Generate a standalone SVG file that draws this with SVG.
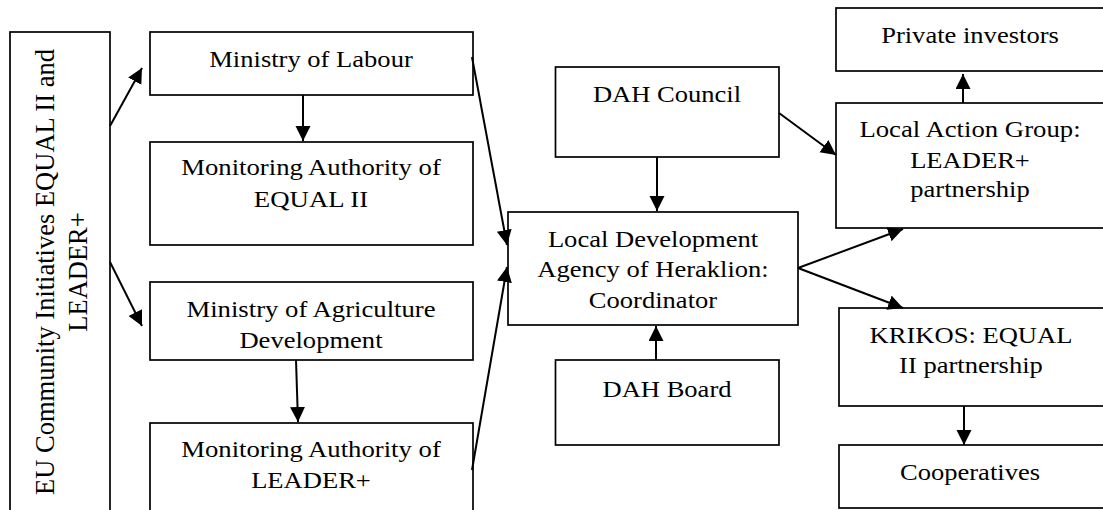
<svg xmlns="http://www.w3.org/2000/svg" width="1103" height="510" viewBox="0 0 1103 510" font-family="'Liberation Serif', 'Times New Roman', serif">
<style>
.box{fill:#fff;stroke:#000;stroke-width:1.7}
.t{font-family:'Liberation Serif','Times New Roman',serif;font-size:22.5px;text-anchor:middle;fill:#000}
.tr{font-family:'Liberation Serif','Times New Roman',serif;font-size:26.5px;text-anchor:middle;fill:#000}
.c{stroke:#000;stroke-width:2;fill:none;marker-end:url(#ah)}
</style>
<defs>
<marker id="ah" markerUnits="userSpaceOnUse" markerWidth="16" markerHeight="16" refX="15" refY="7.5" orient="auto">
<path d="M0,0 L15,7.5 L0,15 Z" fill="#000"/>
</marker>
</defs>
<rect width="1103" height="510" fill="#fff"/>

<g id="eu">
<rect class="box" x="10" y="32" width="100" height="490"/>
<text class="tr" font-family="Liberation Serif, serif" transform="translate(54,272) rotate(-90)">EU Community Initiatives EQUAL II and</text>
<text class="tr" font-family="Liberation Serif, serif" transform="translate(87,272) rotate(-90)">LEADER+</text>
</g>

<g id="min-labour">
<rect class="box" x="150" y="32" width="323" height="63"/>
<text class="t" font-family="Liberation Serif, serif" x="311" y="67" textLength="203.5" lengthAdjust="spacingAndGlyphs">Ministry of Labour</text>
</g>

<g id="mon-equal">
<rect class="box" x="150" y="142" width="323" height="103"/>
<text class="t" font-family="Liberation Serif, serif" x="311" y="175" textLength="259.6" lengthAdjust="spacingAndGlyphs">Monitoring Authority of</text>
<text class="t" font-family="Liberation Serif, serif" x="311" y="207" textLength="114.3" lengthAdjust="spacingAndGlyphs">EQUAL II</text>
</g>

<g id="min-agri">
<rect class="box" x="150" y="282" width="323" height="78"/>
<text class="t" font-family="Liberation Serif, serif" x="311" y="317" textLength="249.2" lengthAdjust="spacingAndGlyphs">Ministry of Agriculture</text>
<text class="t" font-family="Liberation Serif, serif" x="311" y="348" textLength="143.1" lengthAdjust="spacingAndGlyphs">Development</text>
</g>

<g id="mon-leader">
<rect class="box" x="150" y="423" width="323" height="100"/>
<text class="t" font-family="Liberation Serif, serif" x="311" y="457" textLength="259.6" lengthAdjust="spacingAndGlyphs">Monitoring Authority of</text>
<text class="t" font-family="Liberation Serif, serif" x="311" y="488" textLength="119.7" lengthAdjust="spacingAndGlyphs">LEADER+</text>
</g>

<g id="dah-council">
<rect class="box" x="555.5" y="67" width="223.5" height="90"/>
<text class="t" font-family="Liberation Serif, serif" x="667" y="102" textLength="148.2" lengthAdjust="spacingAndGlyphs">DAH Council</text>
</g>

<g id="lda">
<rect class="box" x="508" y="212" width="290" height="113"/>
<text class="t" font-family="Liberation Serif, serif" x="653" y="247" textLength="210.2" lengthAdjust="spacingAndGlyphs">Local Development</text>
<text class="t" font-family="Liberation Serif, serif" x="653" y="277" textLength="231.5" lengthAdjust="spacingAndGlyphs">Agency of Heraklion:</text>
<text class="t" font-family="Liberation Serif, serif" x="653" y="308" textLength="128.3" lengthAdjust="spacingAndGlyphs">Coordinator</text>
</g>

<g id="dah-board">
<rect class="box" x="555.5" y="360" width="223.5" height="85"/>
<text class="t" font-family="Liberation Serif, serif" x="667" y="397" textLength="129" lengthAdjust="spacingAndGlyphs">DAH Board</text>
</g>

<g id="private">
<rect class="box" x="836" y="8" width="270" height="63"/>
<text class="t" font-family="Liberation Serif, serif" x="970" y="43" textLength="177.7" lengthAdjust="spacingAndGlyphs">Private investors</text>
</g>

<g id="lag">
<rect class="box" x="836" y="103" width="270" height="125"/>
<text class="t" font-family="Liberation Serif, serif" x="970" y="137" textLength="221.2" lengthAdjust="spacingAndGlyphs">Local Action Group:</text>
<text class="t" font-family="Liberation Serif, serif" x="970" y="168" textLength="119.7" lengthAdjust="spacingAndGlyphs">LEADER+</text>
<text class="t" font-family="Liberation Serif, serif" x="970" y="197" textLength="119.4" lengthAdjust="spacingAndGlyphs">partnership</text>
</g>

<g id="krikos">
<rect class="box" x="839" y="308" width="267" height="98"/>
<text class="t" font-family="Liberation Serif, serif" x="971" y="343" textLength="202.8" lengthAdjust="spacingAndGlyphs">KRIKOS: EQUAL</text>
<text class="t" font-family="Liberation Serif, serif" x="971" y="373" textLength="143.8" lengthAdjust="spacingAndGlyphs">II partnership</text>
</g>

<g id="coop">
<rect class="box" x="839" y="445" width="267" height="63"/>
<text class="t" font-family="Liberation Serif, serif" x="970" y="480" textLength="140.1" lengthAdjust="spacingAndGlyphs">Cooperatives</text>
</g>

<g id="connectors">
<line class="c" x1="110" y1="126" x2="142" y2="68"/>
<line class="c" x1="110" y1="262" x2="142" y2="326"/>
<line class="c" x1="303" y1="95" x2="303" y2="141"/>
<line class="c" x1="296" y1="360" x2="298" y2="422"/>
<line class="c" x1="472" y1="57" x2="507" y2="245"/>
<line class="c" x1="472" y1="470" x2="507" y2="267"/>
<line class="c" x1="657" y1="157" x2="657" y2="211"/>
<line class="c" x1="656" y1="360" x2="656" y2="326"/>
<line class="c" x1="779" y1="113" x2="836" y2="155"/>
<line class="c" x1="963" y1="103" x2="963" y2="74"/>
<line class="c" x1="798" y1="268" x2="903" y2="229"/>
<line class="c" x1="798" y1="268" x2="903" y2="308"/>
<line class="c" x1="964" y1="406" x2="964" y2="445"/>
</g>
</svg>
